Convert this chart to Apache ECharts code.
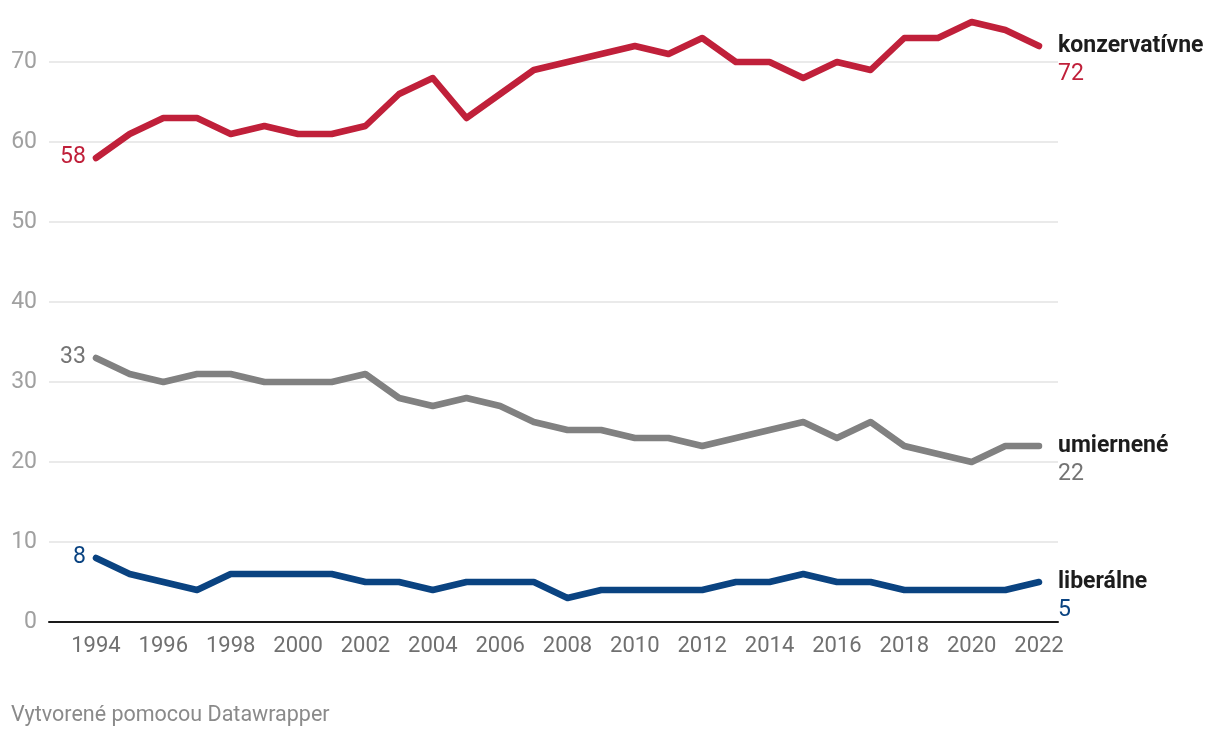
<!DOCTYPE html>
<html>
<head>
<meta charset="utf-8">
<script src="https://cdn.jsdelivr.net/npm/echarts@6/dist/echarts.min.js"></script>
<style>
html,body{margin:0;padding:0;background:#fff;}
#c{width:1220px;height:738px;}
</style>
</head>
<body>
<div id="c"></div>
<script>
const years = [1994,1995,1996,1997,1998,1999,2000,2001,2002,2003,2004,2005,2006,2007,2008,2009,2010,2011,2012,2013,2014,2015,2016,2017,2018,2019,2020,2021,2022];
const konzervativne = [58,61,63,63,61,62,61,61,62,66,68,63,66,69,70,71,72,71,73,70,70,68,70,69,73,73,75,74,72];
const umiernene = [33,31,30,31,31,30,30,30,31,28,27,28,27,25,24,24,23,23,22,23,24,25,23,25,22,21,20,22,22];
const liberalne = [8,6,5,4,6,6,6,6,5,5,4,5,5,5,3,4,4,4,4,5,5,6,5,5,4,4,4,4,5];
const xTickLabels = [1994,1996,1998,2000,2002,2004,2006,2008,2010,2012,2014,2016,2018,2020,2022];
const yTicks = [0,10,20,30,40,50,60,70];
const seriesNames = ['konzervatívne','umiernené','liberálne'];
const seriesColors = ['#c0203a','#818181','#0a4381'];
const labelColors = ['#c0203a','#747474','#0a4381'];
const seriesValues = [konzervativne, umiernene, liberalne];
const footer = 'Vytvorené pomocou Datawrapper';

const chart = echarts.init(document.getElementById('c'), null, {renderer:'canvas'});
const series = seriesValues.map((vals, s) => ({
  name: seriesNames[s],
  type: 'line',
  symbol: 'circle',
  symbolSize: 0.1,
  showSymbol: true,
  showAllSymbol: true,
  clip: false,
  lineStyle: {color: seriesColors[s], width: 6.5, cap: 'round', join: 'round'},
  itemStyle: {color: seriesColors[s], borderWidth: 0},
  data: vals.map((v, i) => i === 0 ? {
    value: [years[i], v],
    label: {show: true, position: 'left', distance: 10, offset: [0, -1], formatter: String(v),
      color: labelColors[s], fontSize: 23, fontFamily: 'Roboto'}
  } : [years[i], v]),
  endLabel: {
    show: true,
    distance: 19,
    offset: [0, 14],
    formatter: () => '{n|' + seriesNames[s] + '}\n{v|' + vals[vals.length-1] + '}',
    rich: {
      n: {fontFamily: 'Roboto', fontWeight: 'bold', fontSize: 23, color: '#1d1d1d', lineHeight: 28},
      v: {fontFamily: 'Roboto', fontSize: 23, color: labelColors[s], lineHeight: 28}
    }
  },
  emphasis: {disabled: true}
}));

chart.setOption({
  animation: false,
  textStyle: {fontFamily: 'Roboto'},
  grid: {left: 49, right: 162, top: 62, bottom: 116, containLabel: false},
  xAxis: {
    type: 'value',
    min: 1992.605,
    max: 2022.564,
    splitLine: {show: false},
    axisTick: {show: false},
    axisLine: {show: true, lineStyle: {color: '#1a1a1a', width: 2}},
    axisLabel: {customValues: xTickLabels, formatter: v => String(v), color: '#707070', fontSize: 22, margin: 13, fontFamily: 'Roboto'}
  },
  yAxis: {
    type: 'value',
    min: 0, max: 70, interval: 10,
    axisLine: {show: false},
    axisTick: {show: false},
    splitLine: {show: true, lineStyle: {color: '#e3e3e3', width: 1.5}},
    axisLabel: {customValues: yTicks, color: '#a0a0a0', fontSize: 23, margin: 12, fontFamily: 'Roboto'}
  },
  title: {
    text: footer, left: 6, top: 700,
    textStyle: {fontFamily: 'Roboto', fontWeight: 'normal', fontSize: 21.5, color: '#8a8a8a'}
  },
  series: series
});
</script>
</body>
</html>
